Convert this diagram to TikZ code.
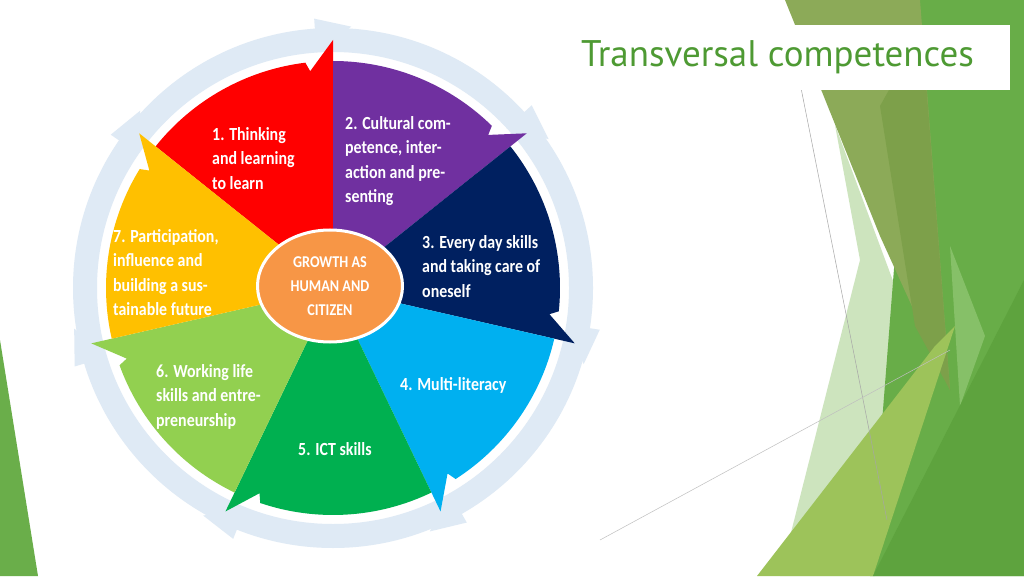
\documentclass[tikz,border=0pt]{standalone}
\usepackage{fontspec}
\setmainfont{Carlito}
\newfontfamily\lab{Carlito Bold}[FakeStretch=0.86]
\newfontfamily\ttl{PT Sans}
\usetikzlibrary{shapes.geometric}
\definecolor{cred}{HTML}{FF0000}
\definecolor{cpur}{HTML}{7030A0}
\definecolor{cnav}{HTML}{002060}
\definecolor{cblu}{HTML}{00B0F0}
\definecolor{cgrn}{HTML}{00B050}
\definecolor{clgr}{HTML}{92D050}
\definecolor{cyel}{HTML}{FFC000}
\definecolor{cora}{HTML}{F79646}
\definecolor{ring}{HTML}{DFEAF5}
\definecolor{ttlc}{HTML}{4E9A33}
\tikzset{lbl/.style={anchor=north west,inner sep=0,align=left,text=white,font=\lab\fontsize{18.5}{24.5}\selectfont}}
\newcommand\seg[3]{\fill[#3] (0,0) -- (#1:227) arc[start angle=#1,end angle=#2+7,radius=227] -- (#2+6:218) -- (#2:248) -- cycle;}
\begin{document}
\begin{tikzpicture}[x=1pt,y=1pt]
\useasboundingbox (0,0) rectangle (1024,576);
\fill[white] (0,0) rectangle (1024,576);
% background shapes (y = 576 - py)
\fill[fill={rgb,255:red,205;green,228;blue,190}] (835,451) -- (915,236) -- (875,0) -- (780,0) -- (860,316) -- cycle;
\fill[fill={rgb,255:red,104;green,173;blue,72}] (915,576) -- (1024,576) -- (1024,0) -- (870,0) -- cycle;
\fill[fill={rgb,255:red,140;green,170;blue,88}] (785,576) -- (920,576) -- (950,186) -- (880,340) -- cycle;
\fill[fill={rgb,255:red,125;green,160;blue,74}] (880,470) -- (922,545) -- (950,186) -- (915,250) -- cycle;
\fill[fill={rgb,255:red,134;green,192;blue,104}] (950,330) -- (985,240) -- (960,170) -- cycle;
\fill[fill={rgb,255:red,157;green,195;blue,90}] (757,0) -- (935,230) -- (955,250) -- (873,0) -- cycle;
\fill[fill={rgb,255:red,94;green,163;blue,62}] (873,0) -- (1024,296) -- (1024,0) -- cycle;
\fill[fill={rgb,255:red,106;green,174;blue,74}] (0,236) -- (38,0) -- (0,0) -- cycle;
\coordinate (l1a) at (800,493); \coordinate (l1b) at (887,56);
\coordinate (l2a) at (600,36); \coordinate (l2b) at (950,226);
\draw[gray!70,line width=0.5] (l1a) -- (l1b);
\draw[gray!50,line width=0.5] (l2a) -- (l2b);
% title
\node[fill=white,minimum width=465,minimum height=65,inner sep=0] (titlebox) at (777.5,518.5) {};
\node[text=ttlc,font=\ttl\fontsize{37}{40}\selectfont] (title) at (titlebox.center) {Transversal competences};
% wheel
\begin{scope}[shift={(333,288)}]
\draw[ring,line width=24] (0,0) circle (248);
\foreach \b in {90,38.6,-12.9,-64.3,-115.7,-167.1,141.4}
  \fill[ring] (\b+4:236) -- (\b-4:262) -- (\b+4:270) -- cycle;
\seg{141.4}{90}{cred}
\seg{90}{38.6}{cpur}
\seg{38.6}{-12.9}{cnav}
\seg{-12.9}{-64.3}{cblu}
\seg{-64.3}{-115.7}{cgrn}
\seg{-115.7}{-167.1}{clgr}
\seg{-167.1}{-218.6}{cyel}
\node[ellipse,fill=cora,draw=white,line width=3,minimum width=145,minimum height=112,inner sep=0,align=center,text=white,font=\lab\fontsize{16.5}{24}\selectfont] (center) at (-3,2) {GROWTH AS\\HUMAN AND\\CITIZEN};
\end{scope}
\node[lbl] (t1) at (212,449) {1. Thinking\\and learning\\to learn};
\node[lbl] (t2) at (345,460) {2. Cultural com-\\petence, inter-\\action and pre-\\senting};
\node[lbl] (t3) at (422,341) {3. Every day skills\\and taking care of\\oneself};
\node[lbl] (t4) at (400,199) {4. Multi-literacy};
\node[lbl] (t5) at (298,134) {5. ICT skills};
\node[lbl] (t6) at (156,212) {6. Working life\\skills and entre-\\preneurship};
\node[lbl] (t7) at (113,347) {7. Participation,\\influence and\\building a sus-\\tainable future};
\end{tikzpicture}
\end{document}
